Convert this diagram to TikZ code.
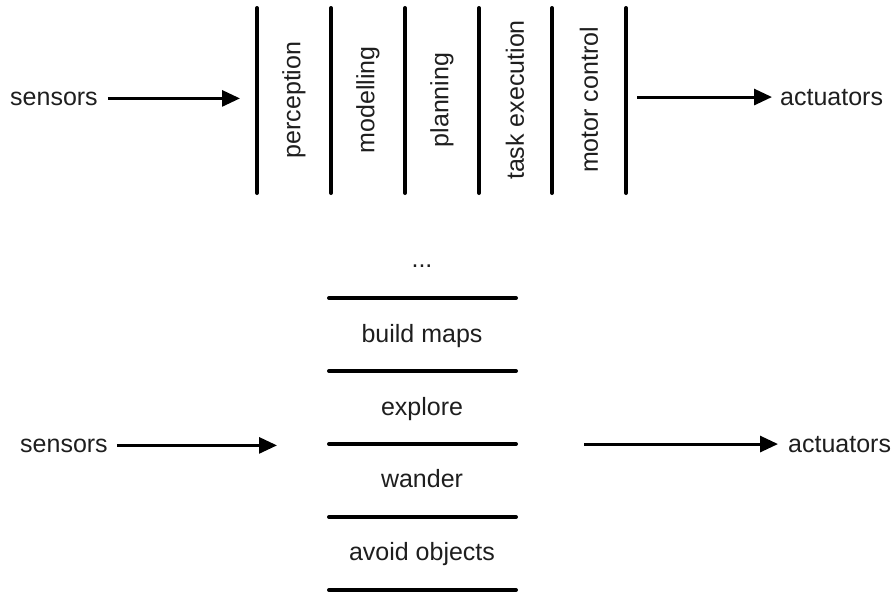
\documentclass[tikz,border=0pt]{standalone}
\usepackage{fontspec}
\setmainfont{Liberation Sans}
\usetikzlibrary{arrows.meta}
\definecolor{txt}{RGB}{30,30,30}
\begin{document}
\begin{tikzpicture}[x=1pt,y=-1pt,
  lbl/.style={font=\fontsize{25}{30}\selectfont, text=txt, inner sep=0pt},
  vlbl/.style={lbl, rotate=90, anchor=center},
  flow/.style={line width=3pt, -{Triangle[length=18pt,width=16pt]}},
  layer/.style={line width=4pt, line cap=round},
]
\useasboundingbox (0,0) rectangle (891,592);

% ---------- horizontal (functional) decomposition ----------
\node[lbl, anchor=base west] (sens1) at (10,105) {sensors};
\node[lbl, anchor=base west] (act1) at (780,105) {actuators};
\coordinate (in1) at (240,0);
\coordinate (out1) at (637,0);

\foreach \x in {257,331,405,479,552,626}
  \draw[layer] (\x,8) -- (\x,193);

\node[vlbl] (perc) at (294,100) {perception};
\node[vlbl] (model) at (368,100) {modelling};
\node[vlbl] (plan) at (442,100) {planning};
\node[vlbl] (task) at (515,100) {task execution};
\node[vlbl] (motor) at (589,100) {motor control};

\draw[flow] ([xshift=10pt]sens1.east) -- (in1 |- sens1.east);
\draw[flow] (out1 |- act1.west) -- ([xshift=-8pt]act1.west);

% ---------- vertical (behaviour-based) decomposition ----------
\node[lbl, anchor=base west] (sens2) at (20,452) {sensors};
\node[lbl, anchor=base west] (act2) at (788,452) {actuators};
\coordinate (in2) at (277,0);
\coordinate (out2) at (584,0);

\foreach \y in {298,371,444,517,590}
  \draw[layer] (329,\y) -- (516,\y);

\node[lbl, anchor=base] (more) at (422,267) {...};
\node[lbl, anchor=base] (maps) at (422,342) {build maps};
\node[lbl, anchor=base] (expl) at (422,415) {explore};
\node[lbl, anchor=base] (wand) at (422,487) {wander};
\node[lbl, anchor=base] (avoid) at (422,560) {avoid objects};

\draw[flow] ([xshift=9pt]sens2.east) -- (in2 |- sens2.east);
\draw[flow] (out2 |- act2.west) -- ([xshift=-10pt]act2.west);
\end{tikzpicture}
\end{document}
